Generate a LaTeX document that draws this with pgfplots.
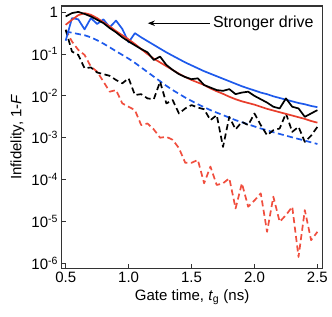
\documentclass[border=0pt]{standalone}
\usepackage{pgfplots}
\pgfplotsset{compat=1.18}
\usepackage{pgfplotstable}
\usepackage{fontspec}
\setmainfont{Liberation Sans}
\usetikzlibrary{arrows.meta,calc}
\definecolor{myblue}{RGB}{30,90,235}
\definecolor{myred}{RGB}{232,62,44}
\definecolor{myred2}{RGB}{240,78,62}

\pgfplotstableread{
x y
0.5 0.209
0.55 0.724
0.6 0.676
0.65 0.389
0.7 0.724
0.75 0.525
0.8 0.676
0.85 0.437
0.9 0.631
0.95 0.398
1.0 0.191
1.05 0.316
1.1 0.251
1.15 0.204
1.2 0.166
1.25 0.135
1.3 0.110
1.35 0.0912
1.4 0.0759
1.45 0.0631
1.5 0.0537
1.55 0.0457
1.6 0.0389
1.65 0.0339
1.7 0.0295
1.75 0.0257
1.8 0.0224
1.85 0.0195
1.9 0.0170
1.95 0.0151
2.0 0.0135
2.05 0.0120
2.1 0.0110
2.15 0.00977
2.2 0.00891
2.25 0.00813
2.3 0.00741
2.35 0.00676
2.4 0.00631
2.45 0.00575
2.5 0.00537
}\bluesolid

\pgfplotstableread{
x y
0.5 0.347
0.55 0.324
0.6 0.302
0.65 0.282
0.7 0.251
0.75 0.214
0.8 0.178
0.85 0.145
0.9 0.117
0.95 0.0955
1.0 0.0776
1.05 0.0617
1.1 0.0479
1.15 0.0372
1.2 0.0288
1.25 0.0224
1.3 0.0174
1.35 0.0138
1.4 0.0112
1.45 0.00912
1.5 0.00759
1.55 0.00631
1.6 0.00537
1.65 0.00457
1.7 0.00398
1.75 0.00347
1.8 0.00302
1.85 0.00263
1.9 0.00234
1.95 0.00209
2.0 0.00186
2.05 0.00166
2.1 0.00151
2.15 0.00135
2.2 0.00123
2.25 0.00112
2.3 0.00102
2.35 0.000933
2.4 0.000851
2.45 0.000776
2.5 0.000708
}\bluedashed

\pgfplotstableread{
x y
0.5 0.501
0.55 0.661
0.6 0.851
0.65 0.955
0.7 0.871
0.75 0.724
0.8 0.575
0.85 0.457
0.9 0.355
0.95 0.282
1.0 0.224
1.05 0.174
1.1 0.132
1.15 0.100
1.2 0.0776
1.25 0.0631
1.3 0.0513
1.35 0.0417
1.4 0.0339
1.45 0.0282
1.5 0.0240
1.55 0.0209
1.6 0.0182
1.65 0.0151
1.7 0.0129
1.75 0.0112
1.8 0.00955
1.85 0.00832
1.9 0.00741
1.95 0.00676
2.0 0.00617
2.05 0.00550
2.1 0.00490
2.15 0.00447
2.2 0.00407
2.25 0.00372
2.3 0.00339
2.35 0.00309
2.4 0.00282
2.45 0.00251
2.5 0.00229
}\redsolid

\pgfplotstableread{
x y
0.5 0.794
0.55 0.955
0.6 1.02
0.65 0.912
0.7 0.794
0.75 0.661
0.8 0.550
0.85 0.417
0.9 0.331
0.95 0.251
1.0 0.200
1.05 0.162
1.1 0.132
1.15 0.110
1.2 0.0724
1.25 0.0871
1.3 0.0550
1.35 0.0417
1.4 0.0331
1.45 0.0282
1.5 0.0251
1.55 0.0263
1.6 0.0182
1.65 0.0158
1.7 0.0138
1.75 0.0132
1.8 0.0145
1.85 0.0110
1.9 0.0120
1.95 0.0126
2.0 0.0100
2.05 0.00832
2.1 0.00692
2.15 0.00550
2.2 0.00501
2.25 0.00871
2.3 0.00550
2.35 0.00501
2.4 0.00316
2.45 0.00380
2.5 0.00457
}\blacksolid

\pgfplotstableread{
x y
0.5 0.380
0.55 0.115
0.6 0.0955
0.65 0.0457
0.7 0.0479
0.75 0.0363
0.8 0.0331
0.85 0.0302
0.9 0.0240
0.95 0.0200
1.0 0.0263
1.05 0.0105
1.1 0.0110
1.15 0.00871
1.2 0.00832
1.25 0.0219
1.3 0.00661
1.35 0.00794
1.4 0.00380
1.45 0.00501
1.5 0.00603
1.55 0.00525
1.6 0.00479
1.65 0.00263
1.7 0.00347
1.75 0.000603
1.8 0.00316
1.85 0.00158
1.9 0.00240
1.95 0.00200
2.0 0.00380
2.05 0.00200
2.1 0.00115
2.15 0.00151
2.2 0.00166
2.25 0.00380
2.3 0.00138
2.35 0.00182
2.4 0.000794
2.45 0.00112
2.5 0.00182
}\blackdashed

\pgfplotstableread{
x y
0.5 0.380
0.55 0.200
0.6 0.126
0.65 0.0955
0.7 0.0501
0.75 0.0380
0.8 0.0219
0.85 0.0126
0.9 0.0138
0.95 0.00661
1.0 0.00550
1.05 0.00457
1.1 0.00200
1.15 0.00219
1.2 0.00158
1.25 0.00100
1.3 0.00105
1.35 0.000891
1.4 0.000562
1.45 0.000251
1.5 0.000251
1.55 0.000295
1.6 0.0000813
1.65 0.000204
1.7 0.0000741
1.75 0.0000813
1.8 0.000107
1.85 0.0000204
1.9 0.0000813
1.95 0.0000224
2.0 0.0000316
2.05 0.0000468
2.1 0.00000562
2.15 0.0000389
2.2 0.00000977
2.25 0.0000141
2.3 0.0000224
2.35 0.00000141
2.4 0.0000186
2.45 0.00000355
2.5 0.00000562
}\reddashed

\begin{document}
\begin{tikzpicture}
\begin{axis}[
  scale only axis, width=261pt, height=262pt,
  xmin=0.467, xmax=2.542,
  ymode=log, ymin=7.6e-7, ymax=1.41,
  yminorticks=false,
  xtick={0.5,1,1.5,2,2.5}, xticklabels={0.5,1.0,1.5,2.0,2.5},
  ytick={1e-6,1e-5,1e-4,1e-3,1e-2,1e-1,1},
  yticklabels={10\textsuperscript{-6},10\textsuperscript{-5},10\textsuperscript{-4},10\textsuperscript{-3},10\textsuperscript{-2},10\textsuperscript{-1},1},
  tick align=inside, xtick pos=bottom, ytick pos=left,
  major tick length=4pt,
  axis line style={line width=1.1pt, black!80},
  every tick/.style={black!80, line width=0.9pt},
  ticklabel style={font=\fontsize{15}{18}\selectfont},
  label style={font=\fontsize{15}{18}\selectfont},
  xlabel={Gate time, \textit{t}\textsubscript{g} (ns)},
  ylabel={Infidelity, 1-\textit{F}},
  /pgf/number format/assume math mode=true,
  every axis plot/.append style={line width=1.7pt, line join=round},
]
\addplot[myred2, dash pattern=on 6pt off 3.5pt] table[x=x,y=y] {\reddashed};
\addplot[myblue, dash pattern=on 6pt off 3.5pt] table[x=x,y=y] {\bluedashed};
\addplot[black, dash pattern=on 6pt off 3.5pt] table[x=x,y=y] {\blackdashed};
\addplot[myblue] table[x=x,y=y] {\bluesolid};
\addplot[myred] table[x=x,y=y] {\redsolid};
\addplot[black] table[x=x,y=y] {\blacksolid};
\draw[-{Stealth[length=7pt,width=5.5pt]}, line width=0.9pt] (axis cs:1.645,0.546) -- (axis cs:1.153,0.546);
\node[anchor=west, inner sep=0pt, font=\fontsize{16}{19}\selectfont] at (axis cs:1.669,0.546) {Stronger drive};
\end{axis}
\pgfresetboundingbox
\path[use as bounding box] ($(current axis.south west)+(-61.5pt,-48pt)$) rectangle ($(current axis.north east)+(9.3pt,6pt)$);
\end{tikzpicture}
\end{document}
